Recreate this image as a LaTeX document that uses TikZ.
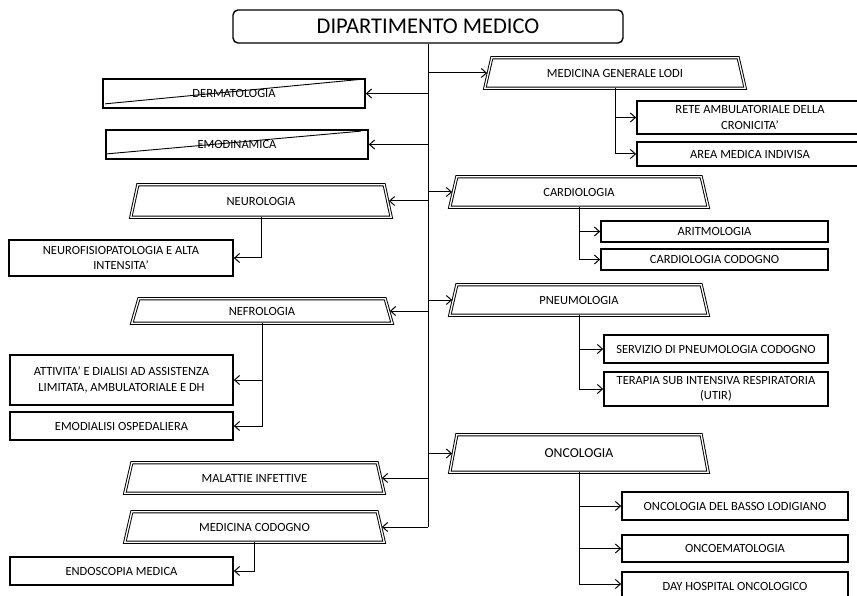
\documentclass[tikz,border=0pt]{standalone}
\usepackage{fontspec}
\setmainfont{Carlito}
\usetikzlibrary{arrows.meta,calc}

\tikzset{
  unitbox/.style={draw, line width=1.7pt, rectangle, inner sep=0pt, align=center,
    font=\fontsize{12.5}{15.5}\selectfont},
  deptbox/.style={rectangle, inner sep=0pt, align=center,
    font=\fontsize{12.5}{15.5}\selectfont},
  deptline/.style={double, double distance=1.3pt, line width=0.95pt, line join=miter},
  headbox/.style={draw, rounded corners=5pt, line width=1.4pt, inner sep=0pt,
    minimum width=390pt, minimum height=33pt, font=\fontsize{22.5}{26}\selectfont},
  link/.style={line width=1pt},
  arr/.style={link, -{Straight Barb[length=5pt,width=9pt]}},
  strike/.style={line width=0.9pt}
}

\begin{document}
\begin{tikzpicture}[x=1pt,y=-1pt]
\useasboundingbox (0,0) rectangle (857,596);
\clip (0,0) rectangle (857,596);

% head of the department
\node[headbox] (top) at (428,26.5) {DIPARTIMENTO MEDICO};

% left branch
\node[unitbox, minimum width=262pt, minimum height=29pt] (derm) at (234,93.5) {DERMATOLOGIA};
\node[unitbox, minimum width=262pt, minimum height=29pt] (emod) at (237,144.5) {EMODINAMICA};
\node[deptbox, minimum width=260pt, minimum height=32pt] (neuro) at (261,201) {NEUROLOGIA};
\node[unitbox, minimum width=224pt, minimum height=36pt] (neurofis) at (121,258) {NEUROFISIOPATOLOGIA E ALTA\\INTENSITA'};
\node[deptbox, minimum width=260pt, minimum height=24pt] (nefro) at (262,311) {NEFROLOGIA};
\node[unitbox, minimum width=223pt, minimum height=50pt] (attiv) at (121.5,380) {ATTIVITA' E DIALISI AD ASSISTENZA\\LIMITATA, AMBULATORIALE E DH};
\node[unitbox, minimum width=223pt, minimum height=28pt] (emodial) at (121.5,426) {EMODIALISI OSPEDALIERA};
\node[deptbox, minimum width=259pt, minimum height=30pt] (malinf) at (254.5,478) {MALATTIE INFETTIVE};
\node[deptbox, minimum width=259pt, minimum height=30pt] (medcod) at (254.5,527) {MEDICINA CODOGNO};
\node[unitbox, minimum width=223pt, minimum height=28pt] (endo) at (121.5,571) {ENDOSCOPIA MEDICA};

% right branch
\node[deptbox, minimum width=260pt, minimum height=30pt] (mgl) at (615,73) {MEDICINA GENERALE LODI};
\node[unitbox, minimum width=226pt, minimum height=33pt] (rete) at (750,117.5) {RETE AMBULATORIALE DELLA\\CRONICITA'};
\node[unitbox, minimum width=226pt, minimum height=24pt] (area) at (750,154) {AREA MEDICA INDIVISA};
\node[deptbox, minimum width=258pt, minimum height=30pt] (cardio) at (579,192) {CARDIOLOGIA};
\node[unitbox, minimum width=227pt, minimum height=21pt] (aritmo) at (714.5,231.5) {ARITMOLOGIA};
\node[unitbox, minimum width=227pt, minimum height=21pt] (cardcod) at (714.5,259.5) {CARDIOLOGIA CODOGNO};
\node[deptbox, minimum width=258pt, minimum height=30pt] (pneumo) at (579,300) {PNEUMOLOGIA};
\node[unitbox, minimum width=224pt, minimum height=28pt] (servizio) at (716,349) {SERVIZIO DI PNEUMOLOGIA CODOGNO};
\node[unitbox, minimum width=224pt, minimum height=34pt] (utir) at (716,389) {TERAPIA SUB INTENSIVA RESPIRATORIA\\(UTIR)};
\node[deptbox, minimum width=258pt, minimum height=37pt, font=\fontsize{13.7}{16}\selectfont] (onco) at (579,453.5) {ONCOLOGIA};
\node[unitbox, minimum width=226pt, minimum height=28pt] (oncbasso) at (735,506) {ONCOLOGIA DEL BASSO LODIGIANO};
\node[unitbox, minimum width=226pt, minimum height=27pt] (oncoem) at (735,548.5) {ONCOEMATOLOGIA};
\node[unitbox, minimum width=226pt, minimum height=28pt] (dayhosp) at (735,586) {DAY HOSPITAL ONCOLOGICO};

% double-lined trapezoid outlines of the departments
\foreach \n in {neuro, nefro, malinf, medcod, mgl, cardio, pneumo, onco}
  \draw[deptline] (\n.south west) -- ([xshift=7pt]\n.north west)
    -- ([xshift=-7pt]\n.north east) -- (\n.south east) -- cycle;

% struck-out units
\draw[strike] ($(derm.south west)+(3,-5)$) -- ($(derm.north east)+(-3,1)$);
\draw[strike] ($(emod.south west)+(2,-6)$) -- ($(emod.north east)+(-8,2)$);

% main trunk
\draw[link] (top.south) -- (top.south |- medcod.east);

% trunk to units and departments
\foreach \n in {derm, emod}
  \draw[arr] (top.south |- \n.east) -- (\n.east);
\foreach \n in {neuro, nefro, malinf, medcod}
  \draw[arr] (top.south |- \n.east) -- ([xshift=-2.3pt]\n.east);
\foreach \n in {mgl, cardio, pneumo, onco}
  \draw[arr] (top.south |- \n.west) -- ([xshift=2.3pt]\n.west);

% departments to their units
\draw[arr] (neuro.south) |- (neurofis.east);
\draw[arr] (nefro.south) |- (attiv.east);
\draw[arr] (nefro.south) |- (emodial.east);
\draw[arr] (medcod.south) |- (endo.east);
\draw[arr] (mgl.south) |- (rete.west);
\draw[arr] (mgl.south) |- (area.west);
\draw[arr] (cardio.south) |- (aritmo.west);
\draw[arr] (cardio.south) |- (cardcod.west);
\draw[arr] (pneumo.south) |- (servizio.west);
\draw[arr] (pneumo.south) |- (utir.west);
\draw[arr] (onco.south) |- (oncbasso.west);
\draw[arr] (onco.south) |- (oncoem.west);
\draw[arr] (onco.south) |- ($(dayhosp.west)+(0,-2)$);
\end{tikzpicture}
\end{document}
